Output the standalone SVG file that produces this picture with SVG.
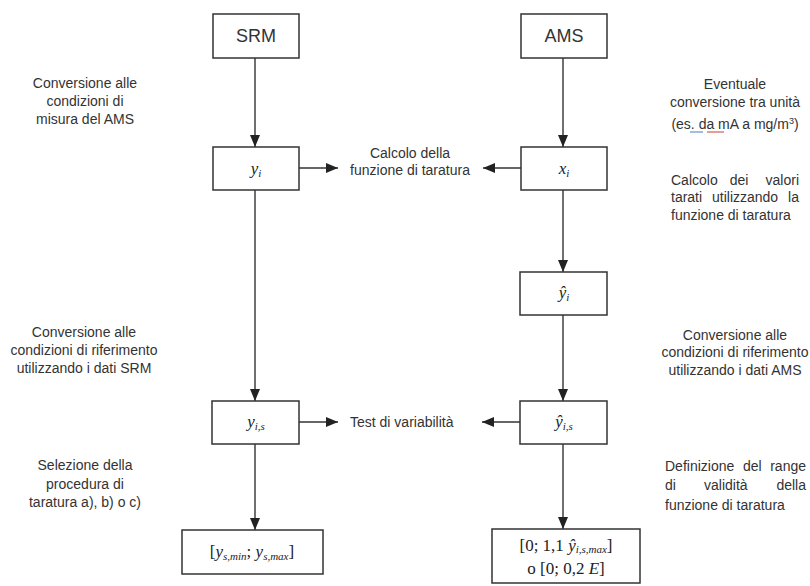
<svg xmlns="http://www.w3.org/2000/svg" width="810" height="586" viewBox="0 0 810 586">
<style>
.bg{fill:#fff}
.box{fill:#fff;stroke:#333;stroke-width:1.5}
.lbl{font-family:"Liberation Sans",Arial,sans-serif;font-size:14px;fill:#333}
.ttl{font-family:"Liberation Sans",Arial,sans-serif;font-size:18px;fill:#333;text-anchor:middle}
.m{font-family:"Liberation Serif","Times New Roman",serif;font-size:17px;fill:#222;text-anchor:middle}
.i{font-style:italic}
.s{font-size:11px;font-style:italic}
.c{text-anchor:middle}
.e{text-anchor:end}
.con{stroke:#333;stroke-width:1.4;fill:none;marker-end:url(#ah)}
</style>
<defs>
<marker id="ah" viewBox="0 0 12 10" refX="12" refY="5" markerWidth="12" markerHeight="10" markerUnits="userSpaceOnUse" orient="auto">
<path d="M0,0 L12,5 L0,10 Z" fill="#222"/>
</marker>
</defs>
<rect class="bg" width="810" height="586"/>

<g id="connectors">
<line class="con" x1="255" y1="58" x2="255" y2="147"/>
<line class="con" x1="255" y1="190" x2="255" y2="401"/>
<line class="con" x1="255" y1="444" x2="255" y2="530"/>
<line class="con" x1="563" y1="58" x2="563" y2="147"/>
<line class="con" x1="563" y1="190" x2="563" y2="272"/>
<line class="con" x1="563" y1="315" x2="563" y2="401"/>
<line class="con" x1="563" y1="444" x2="563" y2="529"/>
<line class="con" x1="299" y1="168" x2="338" y2="168"/>
<line class="con" x1="521" y1="168" x2="483" y2="168"/>
<line class="con" x1="299" y1="422" x2="338" y2="422"/>
<line class="con" x1="520" y1="422" x2="482" y2="422"/>
</g>

<g id="srm">
<rect class="box" x="213" y="14" width="86" height="44"/>
<text class="ttl" x="256" y="42">SRM</text>
</g>
<g id="ams">
<rect class="box" x="521" y="14" width="86" height="44"/>
<text class="ttl" x="564" y="42">AMS</text>
</g>
<g id="yi">
<rect class="box" x="213" y="147" width="86" height="43"/>
<text class="m" x="256" y="174"><tspan class="i">y</tspan><tspan class="s" dy="3">i</tspan></text>
</g>
<g id="xi">
<rect class="box" x="521" y="147" width="86" height="43"/>
<text class="m" x="564" y="174"><tspan class="i">x</tspan><tspan class="s" dy="3">i</tspan></text>
</g>
<g id="yhati">
<rect class="box" x="520" y="272" width="87" height="43"/>
<text class="m" x="564" y="298"><tspan class="i">ŷ</tspan><tspan class="s" dy="3">i</tspan></text>
</g>
<g id="yis">
<rect class="box" x="212" y="401" width="87" height="43"/>
<text class="m" x="256" y="427"><tspan class="i">y</tspan><tspan class="s" dy="3">i,s</tspan></text>
</g>
<g id="yhatis">
<rect class="box" x="520" y="401" width="87" height="43"/>
<text class="m" x="564" y="427"><tspan class="i">ŷ</tspan><tspan class="s" dy="3">i,s</tspan></text>
</g>
<g id="range-srm">
<rect class="box" x="182" y="530" width="141" height="44"/>
<text class="m" x="252" y="557">[<tspan class="i">y</tspan><tspan class="s" dy="3">s,min</tspan><tspan dy="-3">; </tspan><tspan class="i">y</tspan><tspan class="s" dy="3">s,max</tspan><tspan dy="-3">]</tspan></text>
</g>
<g id="range-ams">
<rect class="box" x="492" y="529" width="148" height="54"/>
<text class="m" x="566" y="551" font-size="16">[0; 1,1 <tspan class="i">ŷ</tspan><tspan class="s" dy="2">i,s,max</tspan><tspan dy="-2">]</tspan></text>
<text class="m" x="566" y="574" font-size="16">o [0; 0,2 <tspan class="i">E</tspan>]</text>
</g>

<g id="calc-funz">
<text class="lbl c" x="410" y="158">Calcolo della</text>
<text class="lbl c" x="410" y="175">funzione di taratura</text>
</g>
<g id="test-var">
<text class="lbl" x="350" y="427">Test di variabilità</text>
</g>

<g id="note-l1">
<text class="lbl c" x="85" y="88">Conversione alle</text>
<text class="lbl c" x="85" y="106">condizioni di</text>
<text class="lbl c" x="85" y="124">misura del AMS</text>
</g>
<g id="note-l2">
<text class="lbl c" x="84" y="337">Conversione alle</text>
<text class="lbl c" x="84" y="355">condizioni di riferimento</text>
<text class="lbl c" x="84" y="373">utilizzando i dati SRM</text>
</g>
<g id="note-l3">
<text class="lbl c" x="85" y="470">Selezione della</text>
<text class="lbl c" x="85" y="489">procedura di</text>
<text class="lbl c" x="85" y="507">taratura a), b) o c)</text>
</g>
<g id="note-r1">
<text class="lbl c" x="735" y="89">Eventuale</text>
<text class="lbl c" x="735" y="107">conversione tra unità</text>
<text class="lbl c" x="735" y="129">(es. da mA a mg/m<tspan font-size="9" dy="-5">3</tspan><tspan dy="5">)</tspan></text>
<line x1="690" y1="132" x2="703" y2="132" stroke="#6b8fd6" stroke-width="1.2"/>
<line x1="707" y1="132" x2="724" y2="132" stroke="#d65a5a" stroke-width="1.2"/>
</g>
<g id="note-r2">
<text class="lbl" x="671" y="185">Calcolo</text>
<text class="lbl c" x="739" y="185">dei</text>
<text class="lbl e" x="799" y="185">valori</text>
<text class="lbl" x="671" y="202">tarati</text>
<text class="lbl" x="712" y="202">utilizzando</text>
<text class="lbl e" x="799" y="202">la</text>
<text class="lbl" x="671" y="220">funzione di taratura</text>
</g>
<g id="note-r3">
<text class="lbl c" x="735" y="340">Conversione alle</text>
<text class="lbl c" x="735" y="357">condizioni di riferimento</text>
<text class="lbl c" x="735" y="375">utilizzando i dati AMS</text>
</g>
<g id="note-r4">
<text class="lbl" x="665" y="471">Definizione</text>
<text class="lbl" x="743" y="471">del</text>
<text class="lbl e" x="806" y="471">range</text>
<text class="lbl" x="665" y="490">di</text>
<text class="lbl" x="704" y="490">validità</text>
<text class="lbl e" x="806" y="490">della</text>
<text class="lbl" x="665" y="510">funzione di taratura</text>
</g>
</svg>
